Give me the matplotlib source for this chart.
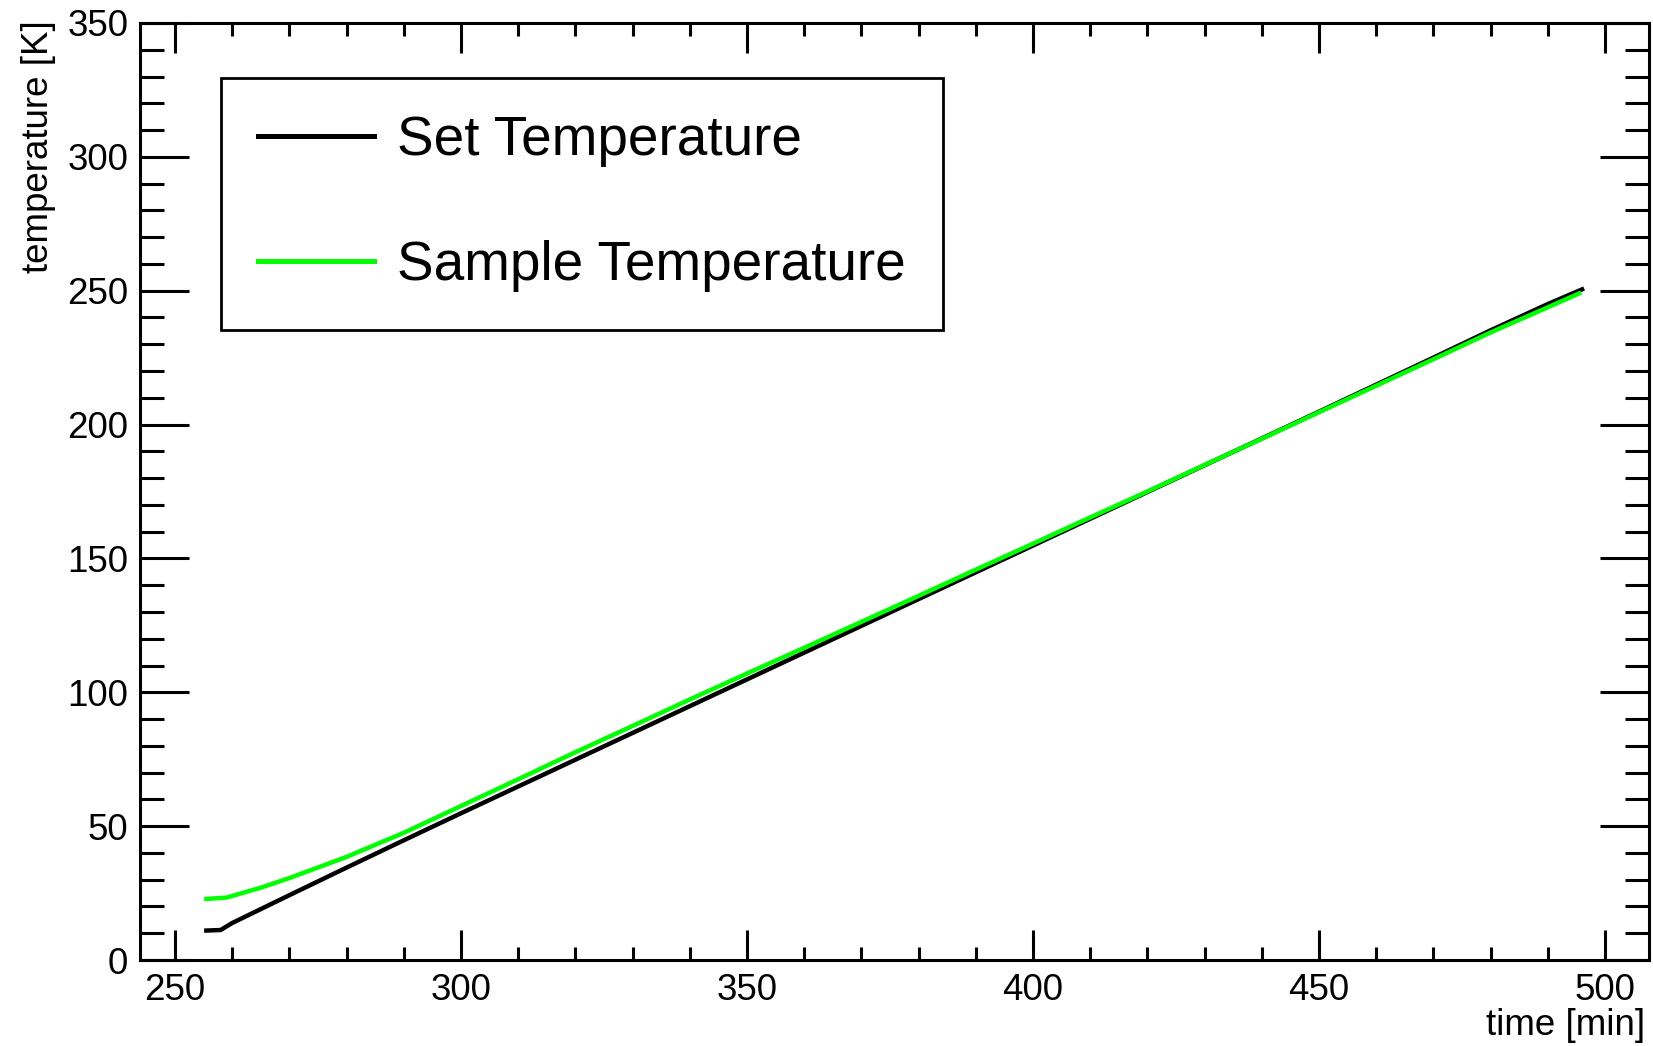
import numpy as np
import matplotlib.pyplot as plt
from matplotlib.ticker import MultipleLocator

plt.rcParams['font.family'] = ['Liberation Sans', 'DejaVu Sans']

# data (time in min, temperature in K)
set_time = [255.5, 258, 260, 270, 280, 290, 300, 310, 320, 330, 340, 350, 360,
            370, 380, 390, 400, 410, 420, 430, 440, 450, 460, 470, 480, 490, 496]
set_temp = [11.0, 11.2, 13.8, 24.2, 34.5, 44.7, 54.8, 64.8, 74.8, 84.8, 94.8, 104.8, 114.8,
            124.8, 134.8, 144.8, 154.8, 164.8, 174.8, 184.8, 194.8, 204.8, 214.9, 225.0, 235.2, 245.0, 250.5]

sample_time = [255.5, 259, 265, 270, 280, 290, 300, 310, 320, 330, 340, 350, 360,
               370, 380, 390, 400, 410, 420, 430, 440, 450, 460, 470, 480, 490, 495.5]
sample_temp = [22.8, 23.3, 27.0, 30.6, 38.5, 47.5, 57.5, 67.5, 77.6, 87.4, 97.3, 107.0, 116.6,
               126.3, 136.0, 145.8, 155.5, 165.3, 175.0, 184.9, 194.7, 204.6, 214.5, 224.4, 234.4, 243.8, 249.0]

fig = plt.figure(figsize=(16.53, 10.46), dpi=100)
ax = fig.add_axes([140 / 1653, 86 / 1046, 1509 / 1653, 937 / 1046])

ax.plot(set_time, set_temp, color='black', lw=3.2, label='Set Temperature')
ax.plot(sample_time, sample_temp, color='#00ff00', lw=3.2, label='Sample Temperature')

ax.set_xlim(243.9, 507.7)
ax.set_ylim(0, 350)

ax.xaxis.set_major_locator(MultipleLocator(50))
ax.xaxis.set_minor_locator(MultipleLocator(10))
ax.yaxis.set_major_locator(MultipleLocator(50))
ax.yaxis.set_minor_locator(MultipleLocator(10))

ax.tick_params(axis='both', which='both', direction='in', width=2.2, colors='black',
               top=True, right=True, labelsize=26.5)
ax.tick_params(axis='x', which='major', length=21.5, pad=9)
ax.tick_params(axis='x', which='minor', length=9.5)
ax.tick_params(axis='y', which='major', length=35, pad=8.5)
ax.tick_params(axis='y', which='minor', length=17)
for sp in ax.spines.values():
    sp.set_linewidth(2.2)

ax.set_xlabel('time [min]', loc='right', fontsize=26.5)
ax.xaxis.set_label_coords(1 - 4 / 1509, -0.051)
ax.set_ylabel('temperature [K]', loc='top', fontsize=26.5)
ax.yaxis.set_label_coords(-0.0557, 1.0032)

leg = ax.legend(loc='upper left', bbox_to_anchor=(221 / 1653, 1 - 78 / 1046),
                bbox_transform=fig.transFigure, borderaxespad=0, fontsize=39.5,
                handlelength=2.1, handletextpad=0.42, labelspacing=1.33,
                borderpad=0.68, fancybox=False, framealpha=1, edgecolor='black')
leg.get_frame().set_linewidth(2.0)
for line in leg.get_lines():
    line.set_linewidth(3.6)

fig.savefig('out.png', dpi=100)
